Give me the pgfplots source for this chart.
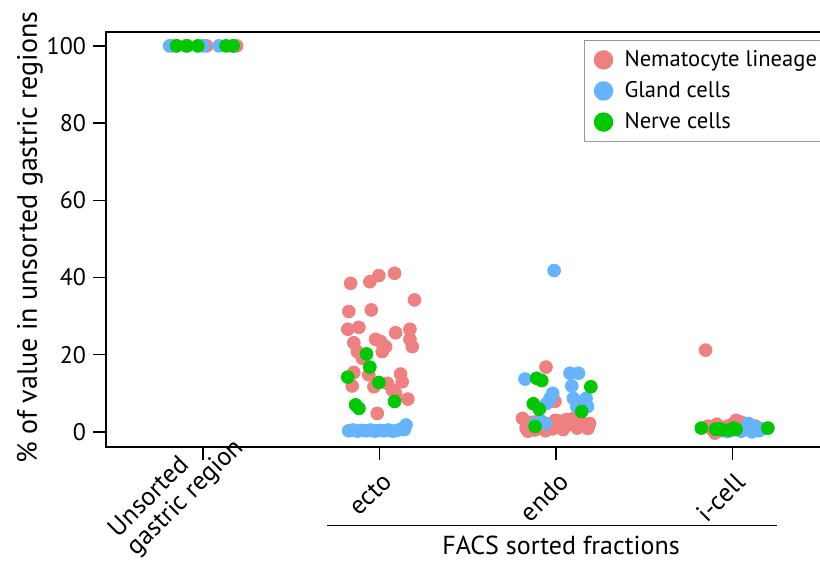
\documentclass[border=0pt]{standalone}
\usepackage{fontspec}
\setmainfont{PT Sans}
\usepackage{pgfplots}
\pgfplotsset{compat=1.18}
\definecolor{nema}{RGB}{239,128,128}
\definecolor{gland}{RGB}{102,180,255}
\definecolor{nerve}{RGB}{0,200,0}
\begin{document}
\begin{tikzpicture}
\begin{axis}[
  scale only axis,
  width=362pt, height=207.5pt,
  xmin=-0.55, xmax=3.552,
  ymin=-3.9, ymax=103.6,
  clip=false,
  axis line style={line width=0.75pt},
  tick style={line width=0.75pt, black},
  tick align=outside,
  major tick length=6.5pt,
  xtick={1,2,3},
  xticklabels={ecto,endo,i-cell},
  extra x ticks={0},
  extra x tick labels={{Unsorted\\gastric region}},
  extra x tick style={x tick label style={xshift=22pt, yshift=8pt}},
  xtick pos=bottom, ytick pos=left,
  ytick={0,20,40,60,80,100},
  /pgf/number format/assume math mode=true,
  yticklabel style={font=\fontsize{12}{14}\selectfont},
  x tick label style={font=\fontsize{13}{13}\selectfont, rotate=45, anchor=east, align=left, xshift=0pt, yshift=-9pt},
  ylabel={\% of value in unsorted gastric regions},
  ylabel style={font=\fontsize{14}{16}\selectfont, at={(axis description cs:-0.0868,0.505)}, anchor=south, inner sep=0pt},
  legend style={at={(axis description cs:0.660,0.981)}, anchor=north west,
    draw=gray!80, line width=0.5pt, font=\fontsize{11.3}{13}\selectfont,
    row sep=2pt, inner xsep=5pt, inner ysep=3pt},
  legend cell align=left,
  legend image code/.code={\path[draw=none,fill=none] (-4.6pt,0pt) rectangle (8.5pt,0pt); \draw[#1, mark size=4.6pt] plot coordinates {(0pt,0pt)};},
]
\addplot[only marks, mark=*, mark size=3.2pt, nema] coordinates {
(-0.18,100) (-0.10,100) (0.02,100) (0.19,100)
(0.836,38.5) (0.945,38.9) (0.996,40.5) (1.085,41.1) (1.198,34.2) (0.826,31.2) (0.953,31.6) (0.82,26.6) (0.883,27.1) (1.091,25.7) (1.172,26.6) (1.172,24.0) (1.185,22.1) (0.854,23.1) (0.977,24.0) (1.006,23.4) (1.034,22.1) (1.015,20.8) (0.874,20.8) (0.902,19.1) (0.854,15.4) (0.939,14.8) (0.845,11.9) (0.968,11.7) (1.119,15.0) (1.128,13.0) (1.044,12.6) (1.072,10.9) (1.16,8.5) (0.987,4.8) (1.091,10.0)
(1.943,16.8) (1.994,7.9)
(1.81,3.5) (1.83,1.0) (1.86,2.5) (1.88,0.5) (1.90,3.0) (1.92,1.5) (1.94,0.3) (1.96,2.0) (1.98,0.8) (2.0,1.2) (2.02,2.8) (2.04,0.6) (2.06,3.2) (2.08,2.0) (2.10,3.5) (2.12,1.0) (2.14,2.6) (2.16,1.8) (2.18,0.9) (2.19,2.2) (1.84,0.2) (1.995,3.0) (2.05,1.8)
(2.847,21.2) (2.88,0.8) (2.91,2.0) (2.94,0.3) (2.97,1.5) (3.0,2.0) (3.02,3.0) (3.04,0.5) (3.07,1.2) (3.10,0.4) (3.13,1.5) (2.90,-0.3) (3.05,2.5) (2.86,1.5)
};
\addlegendentry{Nematocyte lineage}
\addplot[only marks, mark=*, mark size=3.2pt, gland] coordinates {
(-0.19,100) (-0.15,100) (0.0,100) (0.09,100) (0.17,100)
(0.825,0.3) (0.85,0.5) (0.875,0.2) (0.90,0.4) (0.925,0.3) (0.95,0.5) (0.975,0.2) (1.0,0.4) (1.025,0.3) (1.05,0.5) (1.075,0.2) (1.10,0.4) (1.125,0.8) (1.15,1.8) (1.14,0.6)
(1.989,41.8) (1.824,13.7) (2.079,15.2) (2.127,15.2) (2.089,11.9) (1.981,10.0) (1.966,8.7) (1.947,7.4) (2.098,8.7) (2.17,8.7) (2.178,6.6) (2.117,6.6) (1.919,2.7) (1.938,2.2) (1.881,2.2)
(3.05,0.2) (3.08,1.0) (3.09,2.2) (3.11,0.0) (3.13,1.2) (3.15,0.3) (3.17,0.8) (2.97,0.1) (3.0,0.5)
};
\addlegendentry{Gland cells}
\addplot[only marks, mark=*, mark size=3.2pt, nerve] coordinates {
(-0.15,100) (-0.09,100) (-0.03,100) (0.13,100) (0.17,100)
(0.926,20.2) (0.945,16.8) (0.82,14.2) (0.996,12.8) (1.085,7.9) (0.864,7.0) (0.883,6.1)
(1.89,13.9) (1.919,13.3) (2.197,11.7) (1.871,7.3) (1.905,5.9) (2.145,5.3) (1.881,1.4)
(2.823,1.0) (2.904,0.7) (2.925,0.8) (2.94,0.6) (2.98,0.5) (3.005,1.0) (3.02,0.7) (3.2,1.0)
};
\addlegendentry{Nerve cells}
\draw[line width=0.6pt] ([yshift=-39.3pt]axis cs:0.703,-3.9) -- ([yshift=-39.3pt]axis cs:3.252,-3.9);
\node[anchor=base, font=\fontsize{13}{15}\selectfont, inner sep=0pt] at ([yshift=-54pt]axis cs:2.028,-3.9) {FACS sorted fractions};
\end{axis}
\pgfresetboundingbox
\path[use as bounding box] (-53pt,-64.5pt) rectangle (357pt,223.5pt);
\end{tikzpicture}
\end{document}
